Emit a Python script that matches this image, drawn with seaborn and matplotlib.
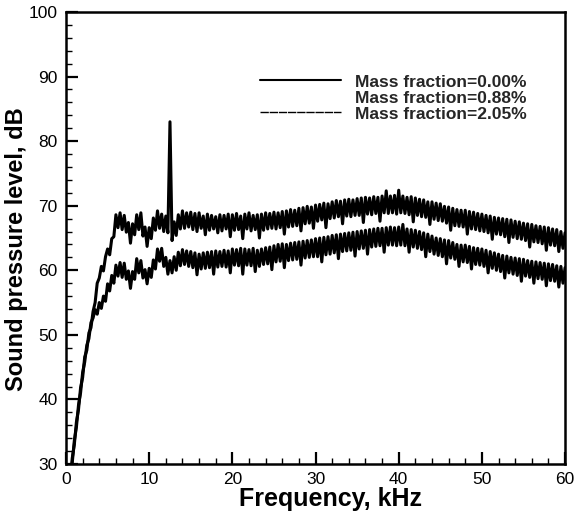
import numpy as np
import seaborn as sns
import matplotlib.pyplot as plt
from matplotlib.lines import Line2D
from matplotlib.ticker import MultipleLocator

sns.set_style("ticks")
plt.rcParams['font.family'] = ['Liberation Sans', 'DejaVu Sans']

# frequency grid of the spectrum, kHz
freq_khz = np.arange(0.5, 60.001, 0.25)

labels = ['Mass fraction=0.00%', 'Mass fraction=0.88%', 'Mass fraction=2.05%']

# sound pressure level, dB (upper band)
spl_000 = [
    27.0, 30.9, 33.0, 36.5, 38.4, 41.8, 43.4, 46.6, 47.6, 50.3, 51.1, 53.6, 55.0, 58.0, 58.8, 60.6, 59.9, 62.1,
    63.3, 62.4, 64.9, 65.2, 68.6, 66.6, 68.9, 66.3, 68.5, 65.9, 67.4, 64.2, 67.2, 65.5, 68.6, 66.3, 68.9, 65.3, 66.7, 63.7,
    66.6, 64.9, 68.1, 66.2, 69.2, 66.5, 68.7, 66.0, 68.4, 65.8, 83.0, 64.6, 67.5, 65.4, 68.6, 66.4, 69.2, 66.5, 68.9, 66.7,
    69.0, 66.3, 68.8, 66.0, 68.9, 66.5, 68.4, 65.5, 68.7, 66.2, 68.5, 66.4, 68.3, 65.8, 68.6, 66.1, 68.5, 66.4, 68.7, 65.2,
    68.6, 66.2, 68.8, 66.3, 68.4, 64.9, 68.7, 66.4, 68.9, 66.1, 68.5, 66.3, 68.6, 65.0, 68.7, 66.2, 68.9, 66.4, 68.8, 66.5,
    69.0, 66.4, 68.9, 66.6, 69.1, 65.6, 69.2, 66.7, 69.4, 66.8, 69.3, 66.9, 69.6, 66.1, 69.7, 67.2, 69.9, 67.3, 69.8, 66.5,
    70.1, 67.6, 70.2, 67.8, 70.4, 66.6, 70.3, 68.0, 70.6, 68.1, 70.8, 68.3, 70.7, 67.2, 70.9, 68.4, 71.0, 68.3, 70.9, 68.5,
    71.1, 68.5, 71.2, 67.4, 71.3, 68.7, 71.2, 68.6, 71.4, 68.8, 71.3, 67.6, 71.5, 68.9, 72.3, 68.8, 71.5, 68.9, 71.6, 68.7,
    72.4, 68.9, 71.5, 68.8, 71.3, 68.6, 71.4, 67.5, 71.2, 68.5, 71.0, 68.3, 70.9, 68.2, 70.6, 67.1, 70.6, 67.9, 70.4, 67.7,
    70.3, 67.6, 69.9, 67.3, 69.8, 66.2, 69.6, 66.9, 69.4, 66.8, 69.3, 66.7, 69.3, 65.6, 69.1, 66.4, 69.0, 66.3, 68.8, 66.1,
    68.7, 66.0, 68.5, 65.8, 68.4, 64.8, 68.2, 65.6, 68.1, 65.5, 68.0, 65.2, 67.9, 64.3, 67.8, 65.1, 67.6, 64.9, 67.5, 64.8,
    67.3, 64.6, 67.2, 63.6, 67.1, 64.4, 66.9, 64.3, 66.8, 64.1, 66.7, 63.1, 66.6, 63.9, 66.4, 63.8, 66.3, 62.9, 66.0, 63.4,
    65.8,
]

# lower band
spl_205 = [
    27.0, 30.2, 33.6, 35.7, 39.1, 41.0, 44.2, 45.8, 48.4, 49.4, 51.9, 52.6, 53.9, 53.2, 55.0, 54.1, 56.0, 55.2,
    57.9, 56.8, 59.2, 58.0, 60.8, 59.1, 61.2, 58.9, 61.1, 58.6, 59.9, 57.2, 59.8, 58.6, 61.8, 59.6, 61.5, 58.8, 60.1, 57.9,
    60.3, 58.9, 61.6, 60.2, 63.3, 61.4, 63.4, 60.6, 62.0, 59.4, 61.5, 59.6, 62.1, 60.0, 62.8, 60.7, 63.2, 60.9, 63.0, 60.6,
    62.9, 60.4, 62.7, 59.3, 62.5, 60.2, 62.7, 60.3, 62.8, 60.4, 62.9, 59.4, 63.0, 60.5, 62.9, 60.6, 63.1, 60.5, 63.0, 59.6,
    63.3, 60.8, 63.2, 60.7, 63.4, 59.4, 63.3, 60.8, 63.2, 60.7, 63.4, 59.8, 63.1, 60.6, 63.3, 60.9, 63.5, 61.0, 63.6, 60.1,
    63.8, 61.3, 64.0, 61.4, 64.1, 60.4, 64.0, 61.5, 64.2, 61.6, 64.3, 61.7, 64.4, 60.8, 64.5, 61.9, 64.6, 62.0, 64.7, 62.1,
    64.9, 62.1, 65.0, 61.3, 65.1, 62.4, 65.2, 62.5, 65.4, 62.7, 65.5, 61.8, 65.6, 62.9, 65.7, 63.0, 65.8, 63.1, 65.9, 62.2,
    66.0, 63.3, 66.1, 63.4, 66.2, 62.5, 66.3, 63.6, 66.4, 63.7, 66.5, 63.8, 66.5, 62.8, 66.6, 63.9, 66.7, 63.9, 66.6, 63.8,
    66.7, 63.9, 67.1, 63.8, 66.4, 62.8, 66.3, 63.6, 66.2, 63.4, 66.0, 63.2, 65.8, 62.1, 65.6, 62.9, 65.3, 62.5, 65.0, 62.3,
    64.9, 62.1, 64.7, 61.0, 64.6, 61.9, 64.3, 61.7, 64.0, 60.6, 63.9, 61.3, 63.9, 61.2, 63.7, 60.2, 63.5, 60.9, 63.4, 60.8,
    63.3, 60.6, 63.1, 59.6, 62.9, 60.3, 62.7, 60.0, 62.5, 59.8, 62.3, 58.8, 62.2, 59.6, 62.0, 59.4, 61.9, 59.2, 61.8, 58.3,
    61.7, 59.1, 61.5, 58.9, 61.4, 58.0, 61.3, 58.7, 61.2, 58.6, 61.1, 57.6, 61.0, 58.4, 60.9, 58.3, 60.7, 57.4, 60.6, 58.0,
    60.4,
]

fig = plt.figure(figsize=(5.76, 5.11), dpi=100)
ax = fig.add_axes([0.1146, 0.092, 0.8664, 0.8845])

sns.lineplot(x=freq_khz, y=spl_000, ax=ax, color='black', lw=2.2)
sns.lineplot(x=freq_khz, y=spl_205, ax=ax, color='black', lw=2.2)

ax.set_xlim(0, 60)
ax.set_ylim(30, 100)
ax.xaxis.set_major_locator(MultipleLocator(10))
ax.xaxis.set_minor_locator(MultipleLocator(2))
ax.yaxis.set_major_locator(MultipleLocator(10))
ax.yaxis.set_minor_locator(MultipleLocator(2))
ax.tick_params(which='major', direction='in', length=8.5, width=1.6, labelsize=12.5, pad=6,
               color='black', labelcolor='black')
ax.tick_params(which='minor', direction='in', length=4.5, width=1.0, color='black')
for s in ax.spines.values():
    s.set_linewidth(1.8)
    s.set_color('black')

ax.set_xlabel('Frequency, kHz', fontsize=18, fontweight='bold', color='black')
ax.set_ylabel('Sound pressure level, dB', fontsize=17, fontweight='bold', color='black')
ax.xaxis.set_label_coords(0.529, -0.05)
ax.yaxis.set_label_coords(-0.077, 0.476)

handles = [Line2D([], [], color='black', lw=1.5),
           Line2D([], [], color='none', lw=1.5),
           Line2D([], [], color='black', lw=1.0, ls=(0, (6, 0.6)))]
leg = ax.legend(handles, labels, loc='upper left', bbox_to_anchor=(0.389, 0.862),
                frameon=False, borderpad=0, borderaxespad=0, handlelength=4.65,
                handletextpad=0.8, labelspacing=0.05,
                prop={'weight': 'bold', 'size': 12.5})

fig.savefig('out.png', dpi=100)
